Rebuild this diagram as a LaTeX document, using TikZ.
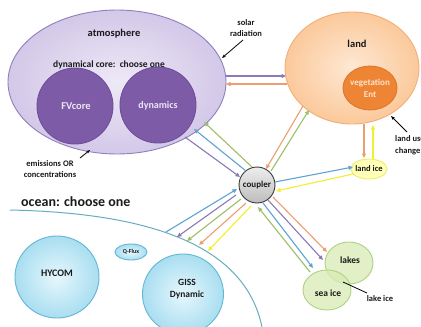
\documentclass[tikz,border=0pt]{standalone}
\usepackage{fontspec}
\setmainfont{Carlito}
\usetikzlibrary{arrows.meta,shapes.geometric}
\definecolor{atmIn}{HTML}{EEE9F7}
\definecolor{atmOut}{HTML}{D3C8E8}
\definecolor{atmDraw}{HTML}{8F80BD}
\definecolor{dynFill}{HTML}{7D5BA6}
\definecolor{dynDraw}{HTML}{6E4E9C}
\definecolor{dynText}{HTML}{EDE6F5}
\definecolor{landIn}{HTML}{FEE8D4}
\definecolor{landOut}{HTML}{FBC99B}
\definecolor{landDraw}{HTML}{F2AE78}
\definecolor{vegFill}{HTML}{EE8535}
\definecolor{vegDraw}{HTML}{E0772A}
\definecolor{vegText}{HTML}{FCE3CC}
\definecolor{ocIn}{HTML}{E6F7FD}
\definecolor{ocOut}{HTML}{A9DEF0}
\definecolor{ocDraw}{HTML}{62B7D6}
\definecolor{ocLine}{HTML}{68ADBF}
\definecolor{gOut}{HTML}{D8ECB5}
\definecolor{gDraw}{HTML}{AED282}
\definecolor{liFill}{HTML}{FFFFB8}
\definecolor{liDraw}{HTML}{EDED6A}
\definecolor{cpTop}{HTML}{EDEDED}
\definecolor{cpBot}{HTML}{BDBDBD}
\definecolor{cpDraw}{HTML}{3A3A3A}
\definecolor{aPurple}{HTML}{8B7AB5}
\definecolor{aBlue}{HTML}{5FA3D3}
\definecolor{aGreen}{HTML}{9DBF68}
\definecolor{aOrange}{HTML}{EB9F6E}
\definecolor{aYellow}{HTML}{F2EE30}
\definecolor{txt}{HTML}{1A1A1A}
\begin{document}
\begin{tikzpicture}[x=1pt,y=-1pt,
  arr/.style={line width=1.1pt,-{Triangle[length=4.5pt,width=4pt]}},
  callout/.style={line width=0.8pt,black,-{Stealth[length=4pt,width=3pt]}},
  lbl/.style={inner sep=0pt,font=\bfseries,text=txt,align=center},
  atmstyle/.style={ellipse,inner sep=0pt,draw=atmDraw,line width=0.9pt,inner color=atmIn,outer color=atmOut},
  dynstyle/.style={circle,inner sep=0pt,draw=dynDraw,line width=0.9pt,fill=dynFill},
  landstyle/.style={ellipse,inner sep=0pt,draw=landDraw,line width=0.9pt,inner color=landIn,outer color=landOut},
  vegstyle/.style={ellipse,inner sep=0pt,draw=vegDraw,line width=0.9pt,fill=vegFill},
  ocstyle/.style={ellipse,inner sep=0pt,draw=ocDraw,line width=0.9pt,inner color=ocIn,outer color=ocOut},
  gstyle/.style={ellipse,inner sep=0pt,draw=gDraw,line width=0.9pt,fill=gOut,fill opacity=0.75},
  listyle/.style={ellipse,inner sep=0pt,draw=liDraw,line width=0.9pt,fill=liFill},
  cpstyle/.style={circle,inner sep=0pt,draw=cpDraw,line width=0.9pt,top color=cpTop,bottom color=cpBot}
]
\useasboundingbox (0,0) rectangle (421,327);
\clip (0,0) rectangle (421,327);
\fill[white] (0,0) rectangle (421,327);

% ---- shapes ----
\node[atmstyle,minimum width=218pt,minimum height=144pt] (atm) at (117,82) {};
\node[dynstyle,minimum size=76pt] (fv) at (75,106) {};
\node[dynstyle,minimum size=76pt] (dyn) at (158,105) {};
\node[landstyle,minimum width=134pt,minimum height=112pt] (land) at (352,68) {};
\node[vegstyle,minimum width=54pt,minimum height=44pt] (veg) at (370,88) {};
\node[listyle,minimum width=36pt,minimum height=20pt] (lice) at (369,169) {};
\node[ocstyle,minimum width=84pt,minimum height=82pt] (hycom) at (57,277) {};
\node[ocstyle,minimum width=32pt,minimum height=16pt] (qflux) at (131,252) {};
\node[ocstyle,minimum width=81pt,minimum height=80pt] (giss) at (183,294) {};
\node[gstyle,minimum width=48pt,minimum height=42pt] (lakes) at (349,263) {};
\node[gstyle,minimum width=48pt,minimum height=40pt] (seaice) at (327,290) {};
\node[cpstyle,minimum size=36pt] (cp) at (257,185) {};

% ocean boundary
\coordinate (oc0) at (10,210);
\coordinate (oc1) at (262,327);
\draw[ocLine,line width=1pt] (oc0) .. controls (150,213) and (245,245) .. (oc1);

% ---- texts ----
\node[lbl,font=\bfseries\fontsize{10.5}{12}\selectfont] (tatm) at (114,34) {atmosphere};
\node[lbl,font=\bfseries\fontsize{9.5}{11}\selectfont] (tcore) at (109,65) {dynamical core:\ \ choose one};
\node[lbl,font=\bfseries\fontsize{10.5}{12}\selectfont,text=dynText] (tfv) at (76,106) {FVcore};
\node[lbl,font=\bfseries\fontsize{10}{12}\selectfont,text=dynText] (tdyn) at (158,106) {dynamics};
\node[lbl,font=\bfseries\fontsize{10.5}{12}\selectfont] (tland) at (357,44) {land};
\node[lbl,font=\bfseries\fontsize{9}{12}\selectfont,text=vegText] (tveg) at (370,88) {vegetation\\Ent};
\node[lbl,font=\bfseries\fontsize{8.5}{11}\selectfont] (tlice) at (369,169) {land ice};
\node[lbl,font=\bfseries\fontsize{9}{11}\selectfont] (tcp) at (257,185) {coupler};
\node[lbl,font=\bfseries\fontsize{9.5}{11}\selectfont] (tlakes) at (350,260) {lakes};
\node[lbl,font=\bfseries\fontsize{9.5}{11}\selectfont] (tsea) at (328,293) {sea ice};
\node[lbl,font=\bfseries\fontsize{8.5}{10}\selectfont] (tlakeice) at (380,299) {lake ice};
\node[lbl,font=\bfseries\fontsize{10}{12}\selectfont] (thy) at (57,273) {HYCOM};
\node[lbl,font=\bfseries\fontsize{6}{7}\selectfont] (tq) at (131,252) {Q-Flux};
\node[lbl,font=\bfseries\fontsize{9.5}{12.5}\selectfont] (tgiss) at (187,289) {GISS\\Dynamic};
\node[lbl,font=\bfseries\fontsize{14}{16}\selectfont,anchor=west] (tocean) at (21,202) {ocean: choose one};
\node[lbl,font=\bfseries\fontsize{8.5}{11.5}\selectfont] (tsolar) at (246,28) {solar\\radiation};
\node[lbl,font=\bfseries\fontsize{8.5}{11.5}\selectfont] (temis) at (50,169) {emissions OR\\concentrations};
\node[lbl,font=\bfseries\fontsize{8.5}{12.5}\selectfont,anchor=north west,align=left] (tluc) at (395,135) {land use\\change};

% ---- callout arrows ----
\coordinate (s0) at (243,40); \coordinate (s1) at (222,58);
\draw[callout] (s0) -- (s1);
\coordinate (e0) at (80,158); \coordinate (e1) at (90,150);
\draw[callout] (e0) -- (e1);
\coordinate (l0) at (407,132); \coordinate (l1) at (391,116);
\draw[callout] (l0) -- (l1);
\coordinate (k0) at (343,282); \coordinate (k1) at (367,293);
\draw[black,line width=0.8pt] (k0) -- (k1);

% ---- atmosphere <-> land ----
\coordinate (al1) at (226,76); \coordinate (al2) at (286,76);
\draw[arr,aPurple] (al1) -- (al2);
\coordinate (la1) at (287,84); \coordinate (la2) at (226,84);
\draw[arr,aOrange] (la1) -- (la2);

% ---- coupler <-> atmosphere ----
\coordinate (ca1) at (185,137); \coordinate (ca2) at (240,177);
\draw[arr,aPurple] (ca1) -- (ca2);
\coordinate (cb1) at (246,171); \coordinate (cb2) at (194,129);
\draw[arr,aBlue] (cb1) -- (cb2);
\coordinate (cg1) at (252,167); \coordinate (cg2) at (204,122);
\draw[arr,aGreen] (cg1) -- (cg2);

% ---- coupler <-> land ----
\coordinate (co1) at (303,106); \coordinate (co2) at (266,169);
\draw[arr,aOrange] (co1) -- (co2);
\coordinate (cl1) at (271,171); \coordinate (cl2) at (309,110);
\draw[arr,aGreen] (cl1) -- (cl2);

% ---- land <-> land ice ----
\coordinate (li1) at (364,124); \coordinate (li2) at (364,158);
\draw[arr,aOrange] (li1) -- (li2);
\coordinate (il1) at (373,159); \coordinate (il2) at (373,125);
\draw[arr,aYellow] (il1) -- (il2);

% ---- coupler <-> land ice ----
\coordinate (ci1) at (275,182); \coordinate (ci2) at (353,167);
\draw[arr,aBlue] (ci1) -- (ci2);
\coordinate (ic1) at (353,174); \coordinate (ic2) at (276,191);
\draw[arr,aYellow] (ic1) -- (ic2);

% ---- coupler <-> ocean ----
\coordinate (ob1) at (166,232); \coordinate (ob2) at (237,189);
\draw[arr,aBlue] (ob1) -- (ob2);
\coordinate (op1) at (236,195); \coordinate (op2) at (177,237);
\draw[arr,aPurple] (op1) -- (op2);
\coordinate (og1) at (241,199); \coordinate (og2) at (187,241);
\draw[arr,aGreen] (og1) -- (og2);
\coordinate (oo1) at (246,203); \coordinate (oo2) at (199,245);
\draw[arr,aOrange] (oo1) -- (oo2);
\coordinate (oy1) at (251,206); \coordinate (oy2) at (208,251);
\draw[arr,aYellow] (oy1) -- (oy2);

% ---- coupler <-> lakes / sea ice ----
\coordinate (ko1) at (273,197); \coordinate (ko2) at (327,252);
\draw[arr,aOrange] (ko1) -- (ko2);
\coordinate (kp1) at (268,200); \coordinate (kp2) at (323,260);
\draw[arr,aPurple] (kp1) -- (kp2);
\coordinate (kb1) at (263,203); \coordinate (kb2) at (313,268);
\draw[arr,aBlue] (kb1) -- (kb2);
\coordinate (kg1) at (310,272); \coordinate (kg2) at (258,207);
\draw[arr,aGreen] (kg1) -- (kg2);
\end{tikzpicture}
\end{document}
